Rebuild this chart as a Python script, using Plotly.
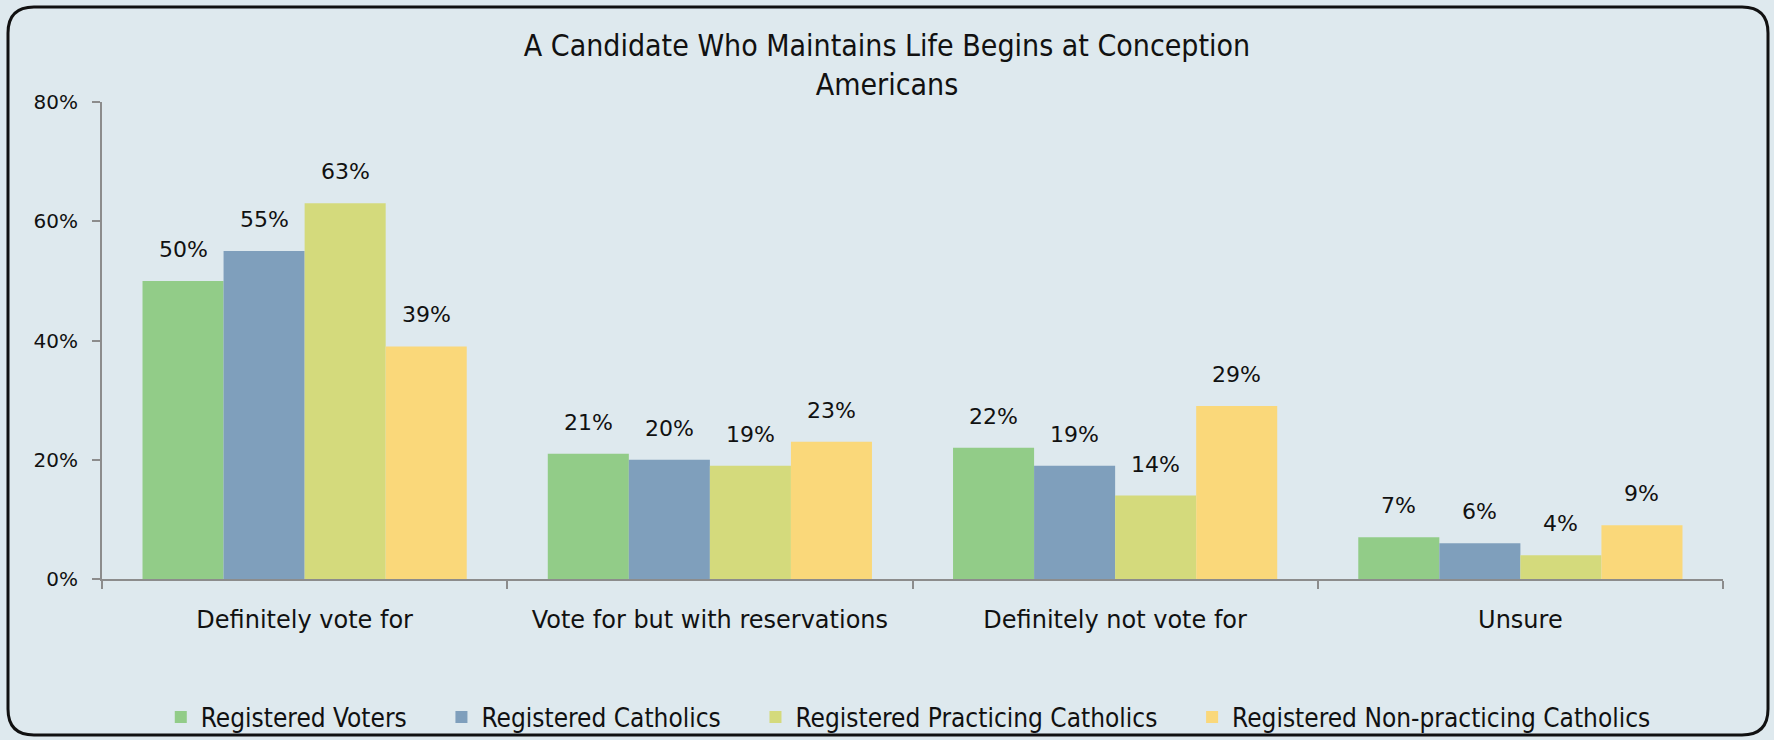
import plotly.graph_objects as go

categories = ["Definitely vote for", "Vote for but with reservations", "Definitely not vote for", "Unsure"]
series_names = ["Registered Voters", "Registered Catholics", "Registered Practicing Catholics", "Registered Non-practicing Catholics"]
registered_voters = [50, 21, 22, 7]
registered_catholics = [55, 20, 19, 6]
practicing_catholics = [63, 19, 14, 4]
nonpracticing_catholics = [39, 23, 29, 9]
series_values = [registered_voters, registered_catholics, practicing_catholics, nonpracticing_catholics]
colors = ["#92CC88", "#7F9FBC", "#D4DA7C", "#FAD87A"]
y_ticks = [0, 20, 40, 60, 80]
y_tick_labels = ["0%", "20%", "40%", "60%", "80%"]

W, H = 1774, 740
L, R, T, B = 102, 51, 102, 161
BG = "#DEE9EE"
body_font = "DejaVu Sans"
cond_font = "DejaVu Sans Condensed"
PAD = "\u00a0" * 4

fig = go.Figure()
for k, (name, vals, col) in enumerate(zip(series_names, series_values, colors)):
    fig.add_trace(go.Bar(name=name + (PAD if k < len(series_names) - 1 else ""), x=categories, y=vals,
                         marker=dict(color=col, line=dict(width=0))))

# data labels above bars
n = len(series_names)
bargap = 0.2
bw = (1 - bargap) / n
for j, vals in enumerate(series_values):
    off = (j - (n - 1) / 2) * bw
    for i, v in enumerate(vals):
        fig.add_annotation(x=i + off, y=v, xref="x", yref="y", text=f"{v}%", showarrow=False,
                           yanchor="bottom", yshift=17, font=dict(family=body_font, size=22, color="#111"))

# rounded border
pw, ph = W - L - R, H - T - B
def px(x): return (x - L) / pw
def py(y): return (H - B - y) / ph
x0, y0, x1, y1, r = 8, 7, 1768, 735, 26
path = (f"M {px(x0 + r)},{py(y0)} L {px(x1 - r)},{py(y0)} Q {px(x1)},{py(y0)} {px(x1)},{py(y0 + r)} "
        f"L {px(x1)},{py(y1 - r)} Q {px(x1)},{py(y1)} {px(x1 - r)},{py(y1)} "
        f"L {px(x0 + r)},{py(y1)} Q {px(x0)},{py(y1)} {px(x0)},{py(y1 - r)} "
        f"L {px(x0)},{py(y0 + r)} Q {px(x0)},{py(y0)} {px(x0 + r)},{py(y0)} Z")
fig.add_shape(type="path", path=path, xref="paper", yref="paper", line=dict(color="#111", width=3), layer="below")

fig.update_layout(
    width=W, height=H,
    margin=dict(l=L, r=R, t=T, b=B),
    paper_bgcolor=BG, plot_bgcolor=BG,
    barmode="group", bargap=bargap, bargroupgap=0,
    title=dict(text="A Candidate Who Maintains Life Begins at Conception<br>Americans",
               x=0.5, xref="container", xanchor="center", y=1 - 56 / H, yanchor="top",
               font=dict(family=cond_font, size=30, color="#111")),
    legend=dict(orientation="h", x=0.512, xref="container", xanchor="center", y=1 - 717 / H, yref="container",
                yanchor="middle", font=dict(family=cond_font, size=26, color="#111"), itemwidth=30,
                traceorder="normal", bgcolor="rgba(0,0,0,0)"),
    showlegend=True,
    xaxis=dict(showline=True, linecolor="#8C8C8C", linewidth=2, ticks="outside", tickson="boundaries",
               ticklen=8, tickcolor="#8C8C8C", tickwidth=2, showgrid=False,
               tickfont=dict(family=body_font, size=24, color="#111"), ticklabelstandoff=18),
    yaxis=dict(range=[0, 80], tickvals=y_ticks, ticktext=y_tick_labels, showline=True, linecolor="#8C8C8C",
               linewidth=2, ticks="outside", ticklen=8, tickcolor="#8C8C8C", tickwidth=2, showgrid=False,
               zeroline=False, tickfont=dict(family=body_font, size=20, color="#111"), ticklabelstandoff=10),
)
fig.write_html("out.html", config={"displayModeBar": False},
               post_script="document.body.style.margin='0';document.body.style.overflow='hidden';")
